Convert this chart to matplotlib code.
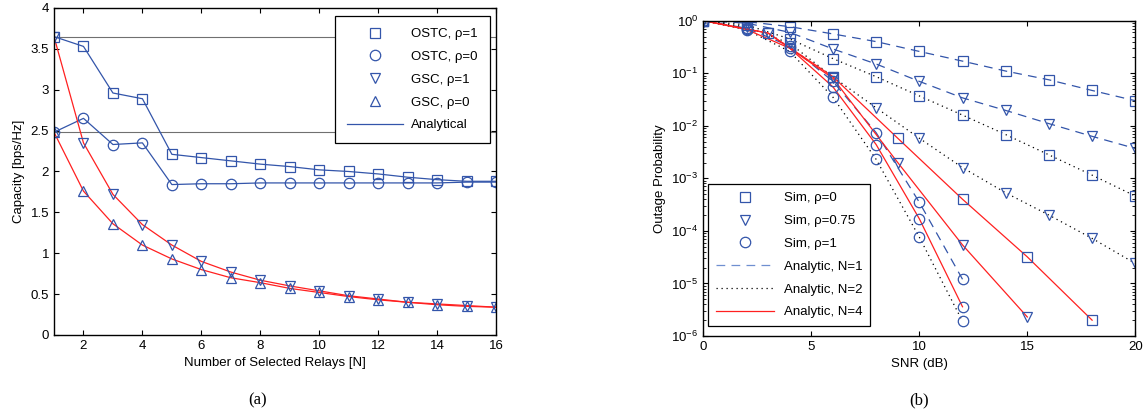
import matplotlib
matplotlib.use("Agg")
import matplotlib.pyplot as plt
from matplotlib.lines import Line2D
from matplotlib.ticker import LogLocator, NullFormatter

plt.rcParams["font.family"] = ["Liberation Sans", "DejaVu Sans"]
plt.rcParams["mathtext.fontset"] = "custom"
plt.rcParams["mathtext.rm"] = "Liberation Sans"
plt.rcParams["mathtext.it"] = "Liberation Sans:italic"

# ---- (a) capacity vs number of selected relays ----
relays = list(range(1, 17))
ostc_rho1 = [3.65, 3.53, 2.96, 2.89, 2.21, 2.17, 2.13, 2.09, 2.06, 2.02, 2.00, 1.97, 1.93, 1.90, 1.88, 1.88]
ostc_rho0 = [2.48, 2.65, 2.33, 2.35, 1.84, 1.85, 1.85, 1.86, 1.86, 1.86, 1.86, 1.86, 1.86, 1.86, 1.87, 1.87]
gsc_rho1 = [3.65, 2.35, 1.72, 1.35, 1.10, 0.90, 0.77, 0.67, 0.60, 0.54, 0.48, 0.44, 0.40, 0.38, 0.36, 0.34]
gsc_rho0 = [2.48, 1.76, 1.36, 1.10, 0.93, 0.80, 0.70, 0.64, 0.57, 0.52, 0.47, 0.43, 0.40, 0.37, 0.35, 0.34]

# ---- (b) outage probability vs SNR ----
snr_even = [0, 2, 4, 6, 8, 10, 12, 14, 16, 18, 20]
snr_low = [0, 2, 4, 6, 8, 10, 12]
snr_step3 = [0, 3, 6, 9, 12, 15, 18]

n1_rho0 = [1, 0.96, 0.77, 0.56, 0.40, 0.26, 0.17, 0.11, 0.075, 0.047, 0.03]
n1_rho075 = [1, 0.9, 0.6, 0.29, 0.15, 0.07, 0.034, 0.0196, 0.011, 0.0063, 0.0037]
n1_rho1 = [1, 0.72, 0.33, 0.07, 0.0074, 3.5e-4, 1.2e-5]

n2_rho0 = [1, 0.83, 0.45, 0.19, 0.086, 0.037, 0.016, 0.0068, 0.0028, 0.00115, 0.00046]
n2_rho075 = [1, 0.76, 0.37, 0.085, 0.022, 0.0058, 0.0016, 0.00053, 0.0002, 7.2e-5, 2.4e-5]
n2_rho1 = [1, 0.67, 0.26, 0.035, 0.0023, 7.6e-5, 1.9e-6]

n4_rho0 = [1, 0.58, 0.086, 0.0058, 0.0004, 3.2e-5, 2e-6]
n4_rho075 = [1, 0.58, 0.08, 0.002, 5.4e-5, 2.3e-6]
n4_rho1 = [1, 0.68, 0.3, 0.055, 0.0044, 1.7e-4, 3.6e-6]

BLUE = "#3355aa"
RED = "#ff2020"
FS = 9.5
MS = 7.5


def style_axes(ax):
    ax.tick_params(direction="in", which="both", top=True, right=True, labelsize=FS)
    for s in ax.spines.values():
        s.set_linewidth(1.0)


def hollow(ax, x, y, marker):
    ax.plot(x, y, linestyle="none", marker=marker, markersize=MS,
            markerfacecolor="none", markeredgecolor=BLUE, markeredgewidth=0.9)


def legend_marker(marker):
    return Line2D([], [], marker=marker, linestyle="none", markersize=MS,
                  markerfacecolor="none", markeredgecolor=BLUE, markeredgewidth=0.9)


def plot_capacity(ax):
    ax.axhline(ostc_rho1[0], color="#707070", lw=0.8)
    ax.axhline(ostc_rho0[0], color="#707070", lw=0.8)
    ax.plot(relays, ostc_rho1, color=BLUE, lw=0.9)
    ax.plot(relays, ostc_rho0, color=BLUE, lw=0.9)
    ax.plot(relays, gsc_rho1, color=RED, lw=0.9)
    ax.plot(relays, gsc_rho0, color=RED, lw=0.9)
    hollow(ax, relays, ostc_rho1, "s")
    hollow(ax, relays, ostc_rho0, "o")
    hollow(ax, relays, gsc_rho1, "v")
    hollow(ax, relays, gsc_rho0, "^")

    ax.set_xlim(1, 16)
    ax.set_ylim(0, 4)
    ax.set_xticks(range(2, 17, 2))
    ax.set_yticks([0, 0.5, 1, 1.5, 2, 2.5, 3, 3.5, 4])
    ax.set_yticklabels(["0", "0.5", "1", "1.5", "2", "2.5", "3", "3.5", "4"])
    ax.set_xlabel("Number of Selected Relays [N]", fontsize=FS)
    ax.set_ylabel("Capacity [bps/Hz]", fontsize=FS)
    style_axes(ax)

    handles = [legend_marker("s"), legend_marker("o"), legend_marker("v"),
               legend_marker("^"), Line2D([], [], color=BLUE, lw=0.9)]
    labels = ["OSTC, \u03c1=1", "OSTC, \u03c1=0", "GSC, \u03c1=1", "GSC, \u03c1=0", "Analytical"]
    leg = ax.legend(handles, labels, loc="upper right", fontsize=FS, fancybox=False,
                    edgecolor="black", framealpha=1, handlelength=4.3,
                    borderpad=0.9, labelspacing=0.8, handletextpad=0.6,
                    borderaxespad=0, bbox_to_anchor=(0.986, 0.975))
    leg.get_frame().set_linewidth(0.9)


def plot_outage(ax):
    dash = (0, (7, 5))
    dot = (0, (1, 3))
    ax.plot(snr_even, n1_rho0, color=BLUE, lw=0.9, linestyle=dash)
    ax.plot(snr_even, n1_rho075, color=BLUE, lw=0.9, linestyle=dash)
    ax.plot(snr_low, n1_rho1, color=BLUE, lw=0.9, linestyle=dash)
    ax.plot(snr_even, n2_rho0, color="black", lw=0.9, linestyle=dot)
    ax.plot(snr_even, n2_rho075, color="black", lw=0.9, linestyle=dot)
    ax.plot(snr_low, n2_rho1, color="black", lw=0.9, linestyle=dot)
    ax.plot(snr_step3, n4_rho0, color=RED, lw=0.9)
    ax.plot(snr_step3[:6], n4_rho075, color=RED, lw=0.9)
    ax.plot(snr_low, n4_rho1, color=RED, lw=0.9)

    hollow(ax, snr_even, n1_rho0, "s")
    hollow(ax, snr_even, n2_rho0, "s")
    hollow(ax, snr_step3, n4_rho0, "s")
    hollow(ax, snr_even, n1_rho075, "v")
    hollow(ax, snr_even, n2_rho075, "v")
    hollow(ax, snr_step3[:6], n4_rho075, "v")
    hollow(ax, snr_low, n1_rho1, "o")
    hollow(ax, snr_low, n2_rho1, "o")
    hollow(ax, snr_low, n4_rho1, "o")

    ax.set_yscale("log")
    ax.set_xlim(0, 20)
    ax.set_ylim(1e-6, 1)
    ax.set_xticks([0, 5, 10, 15, 20])
    ax.yaxis.set_major_locator(LogLocator(base=10, numticks=10))
    ax.yaxis.set_minor_locator(LogLocator(base=10, subs=range(2, 10), numticks=20))
    ax.yaxis.set_minor_formatter(NullFormatter())
    ax.set_xlabel("SNR (dB)", fontsize=FS)
    ax.set_ylabel("Outage Probability", fontsize=FS)
    style_axes(ax)
    ax.tick_params(which="minor", length=2.5)

    handles = [legend_marker("s"), legend_marker("v"), legend_marker("o"),
               Line2D([], [], color="#6f8fd0", lw=0.9, linestyle=dash),
               Line2D([], [], color="black", lw=0.9, linestyle=dot),
               Line2D([], [], color=RED, lw=0.9)]
    labels = ["Sim, \u03c1=0", "Sim, \u03c1=0.75", "Sim, \u03c1=1",
              "Analytic, N=1", "Analytic, N=2", "Analytic, N=4"]
    leg = ax.legend(handles, labels, loc="lower left", fontsize=FS, fancybox=False,
                    edgecolor="black", framealpha=1, handlelength=4.4,
                    borderpad=0.6, labelspacing=0.8, handletextpad=0.75,
                    borderaxespad=0, bbox_to_anchor=(0.011, 0.031))
    leg.get_frame().set_linewidth(0.9)


fig = plt.figure(figsize=(11.44, 4.18), dpi=100)
ax_a = fig.add_axes([0.0472, 0.1986, 0.3864, 0.7823])
ax_b = fig.add_axes([0.6148, 0.1962, 0.3776, 0.7543])
plot_capacity(ax_a)
plot_outage(ax_b)

fig.text(0.2255, 0.043, "(a)", ha="center", va="center", fontsize=12, family="Liberation Serif")
fig.text(0.803, 0.043, "(b)", ha="center", va="center", fontsize=12, family="Liberation Serif")

fig.savefig("out.png", dpi=100)
